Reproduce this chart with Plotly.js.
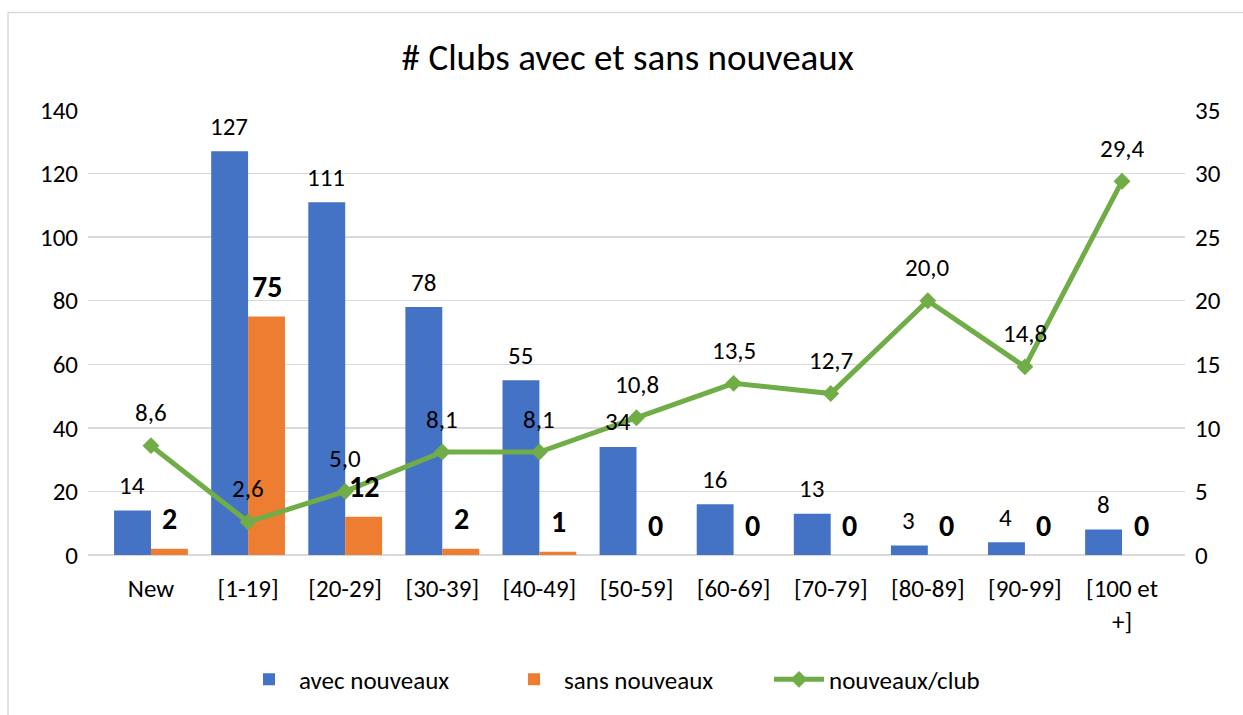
<!DOCTYPE html>
<html>
<head>
<meta charset="utf-8">
<script src="https://cdn.plot.ly/plotly-3.0.1.min.js"></script>
<style>html,body{margin:0;padding:0;background:#fff;}#chart{width:1243px;height:715px;}</style>
</head>
<body>
<div id="chart"></div>
<script>
const categories = ["New", "[1-19]", "[20-29]", "[30-39]", "[40-49]", "[50-59]", "[60-69]", "[70-79]", "[80-89]", "[90-99]", "[100 et<br>+]"];
const avecNouveaux = [14, 127, 111, 78, 55, 34, 16, 13, 3, 4, 8];
const sansNouveaux = [2, 75, 12, 2, 1, 0, 0, 0, 0, 0, 0];
const nouveauxParClub = [8.6, 2.6, 5.0, 8.1, 8.1, 10.8, 13.5, 12.7, 20.0, 14.8, 29.4];
const leftTicks = [0, 20, 40, 60, 80, 100, 120, 140];
const rightTicks = [0, 5, 10, 15, 20, 25, 30, 35];

const FONT = "Carlito, Calibri, Lato, 'Open Sans', sans-serif";
const FS = 25;
const fmt = v => v.toFixed(1).replace('.', ',');

const traces = [
  {type: 'bar', name: 'avec nouveaux', x: categories, y: avecNouveaux,
   marker: {color: '#4472C4'}, yaxis: 'y', hoverinfo: 'none'},
  {type: 'bar', name: 'sans nouveaux', x: categories, y: sansNouveaux,
   marker: {color: '#ED7D31'}, yaxis: 'y', hoverinfo: 'none'},
  {type: 'scatter', mode: 'lines+markers', name: 'nouveaux/club', x: categories, y: nouveauxParClub,
   yaxis: 'y2', line: {color: '#70AD47', width: 5},
   marker: {symbol: 'diamond', size: 13, color: '#70AD47'}, hoverinfo: 'none'}
];

const annotations = [];
categories.forEach((c, i) => {
  annotations.push({x: c, y: avecNouveaux[i], xref: 'x', yref: 'y', xshift: -19, yshift: 25,
    text: String(avecNouveaux[i]), showarrow: false, yanchor: 'middle',
    font: {family: FONT, size: FS, color: '#000'}});
  annotations.push({x: c, y: sansNouveaux[i], xref: 'x', yref: 'y', xshift: 19, yshift: 30,
    text: '<b>' + sansNouveaux[i] + '</b>', showarrow: false, yanchor: 'middle',
    font: {family: FONT, size: 30, color: '#000'}});
  annotations.push({x: c, y: nouveauxParClub[i], xref: 'x', yref: 'y2', yshift: 33,
    text: fmt(nouveauxParClub[i]), showarrow: false, yanchor: 'middle',
    font: {family: FONT, size: FS, color: '#000'}});
});

const layout = {
  width: 1243, height: 715,
  margin: {l: 88, r: 58, t: 110, b: 157},
  paper_bgcolor: '#fff', plot_bgcolor: '#fff',
  font: {family: FONT, size: FS, color: '#000'},
  title: {text: '# Clubs avec et sans nouveaux', x: 0.505, xanchor: 'center', y: 0.92, yanchor: 'middle',
    font: {family: FONT, size: 37, color: '#000'}},
  barmode: 'group', bargap: 0.24, bargroupgap: 0,
  showlegend: true,
  legend: {orientation: 'h', x: 0.5, xanchor: 'center', y: -0.28, yanchor: 'middle',
    font: {family: FONT, size: FS, color: '#000'}, traceorder: 'normal', itemwidth: 50,
    entrywidth: 200, entrywidthmode: 'pixels'},
  xaxis: {type: 'category', showgrid: false, zeroline: false, showline: false,
    ticks: 'outside', ticklen: 11, tickcolor: 'rgba(0,0,0,0)',
    tickfont: {family: FONT, size: FS, color: '#000'}, fixedrange: true},
  yaxis: {range: [0, 140], tickvals: leftTicks, ticktext: leftTicks.map(String),
    showgrid: true, gridcolor: '#d9d9d9', gridwidth: 1.5, zeroline: true, zerolinecolor: '#d9d9d9', zerolinewidth: 1.5,
    showline: false, ticks: 'outside', ticklen: 4, tickcolor: 'rgba(0,0,0,0)',
    tickfont: {family: FONT, size: FS, color: '#000'}, fixedrange: true},
  yaxis2: {range: [0, 35], tickvals: rightTicks, ticktext: rightTicks.map(String),
    overlaying: 'y', side: 'right', showgrid: false, zeroline: false, showline: false,
    ticks: 'outside', ticklen: 4, tickcolor: 'rgba(0,0,0,0)',
    tickfont: {family: FONT, size: FS, color: '#000'}, fixedrange: true},
  annotations: annotations,
  shapes: [
    {type: 'line', xref: 'paper', yref: 'paper', x0: -0.0729, x1: -0.0729, y0: 1.219, y1: -0.36,
     line: {color: '#d9d9d9', width: 1.5}},
    {type: 'line', xref: 'paper', yref: 'paper', x0: -0.0729, x1: 1.06, y0: 1.219, y1: 1.219,
     line: {color: '#d9d9d9', width: 1.5}}
  ]
};

Plotly.newPlot('chart', traces, layout, {displayModeBar: false, staticPlot: true});
</script>
</body>
</html>
